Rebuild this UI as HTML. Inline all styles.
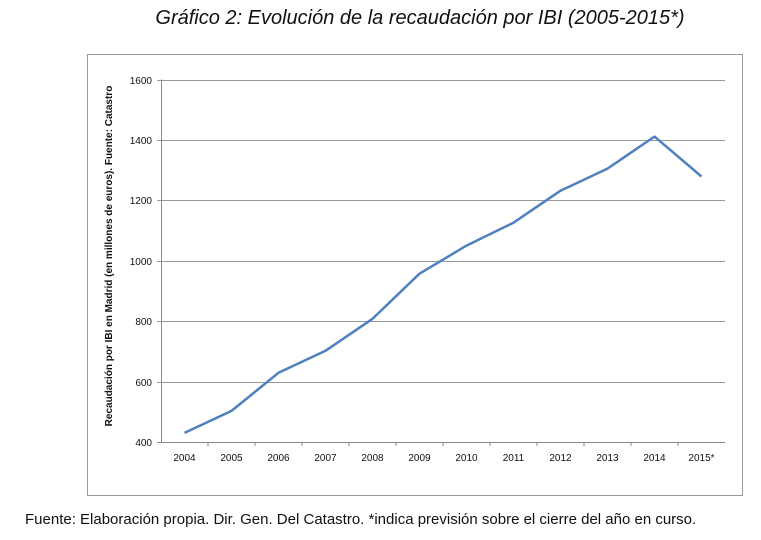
<!DOCTYPE html>
<html><head><meta charset="utf-8"><style>
body{margin:0;width:761px;height:540px;background:#fff;overflow:hidden;font-family:"Liberation Sans",sans-serif}
svg{position:absolute;left:0;top:0}
</style></head><body>
<svg id="c" width="761" height="540">
<text x="420" y="24" text-anchor="middle" font-size="20" font-style="italic" font-family="Liberation Sans, sans-serif" fill="#111">Gráfico 2: Evolución de la recaudación por IBI (2005-2015*)</text>
<rect x="87.5" y="54.5" width="655" height="441" fill="#fff" stroke="#999" stroke-width="1"/>
<text x="25" y="524" font-size="15" fill="#111">Fuente: Elaboración propia. Dir. Gen. Del Catastro. *indica previsión sobre el cierre del año en curso.</text>
<text transform="translate(112,256) rotate(-90)" text-anchor="middle" font-size="10" font-weight="bold" fill="#111">Recaudación por IBI en Madrid (en millones de euros). Fuente: Catastro</text>
<g id="grid"></g><g id="axes"></g><path id="line" fill="none" stroke="#4f81bd" stroke-width="2.5" stroke-linejoin="round"/>
</svg>
<script>
const categories=["2004","2005","2006","2007","2008","2009","2010","2011","2012","2013","2014","2015*"];
const values=[430,503,629,702,808,957,1050,1126,1232,1305,1411,1279];
const yTicks=[400,600,800,1000,1200,1400,1600];
const L=161,R=725,T=79.5,B=442;
const x=i=>L+(R-L)/categories.length*(i+0.5);
const y=v=>B-(v-400)/(1600-400)*(B-T);
const ns="http://www.w3.org/2000/svg";
const g=document.getElementById('grid'),a=document.getElementById('axes');
function mk(t,at,p){const e=document.createElementNS(ns,t);for(const k in at)e.setAttribute(k,at[k]);p.appendChild(e);return e;}
yTicks.forEach(v=>{
 const yy=Math.round(y(v))+0.5;
 const l=mk('line',{x1:L-4,x2:R,y1:yy,y2:yy,stroke:v===400?'#888':'#999','stroke-width':1},g);
 
 
 const t=mk('text',{x:L-9,y:yy+3.5,'text-anchor':'end','font-size':10,fill:'#111'},a);
 t.textContent=v;
 
 
});
const ax=mk('line',{x1:L+0.5,x2:L+0.5,y1:T,y2:B,stroke:'#888'},a);


categories.forEach((c,i)=>{
 const bx=L+(R-L)/categories.length*i;
 if(i>0){const tk=mk('line',{x1:bx,x2:bx,y1:B,y2:B+4,stroke:'#888'},a);
 
 }
 const t=mk('text',{x:x(i),y:B+19,'text-anchor':'middle','font-size':10,fill:'#111'},a);
 t.textContent=c;
 
 
});
document.getElementById('line').setAttribute('d',values.map((v,i)=>(i?'L':'M')+x(i).toFixed(1)+' '+y(v).toFixed(1)).join(' '));
</script>
</body></html>
